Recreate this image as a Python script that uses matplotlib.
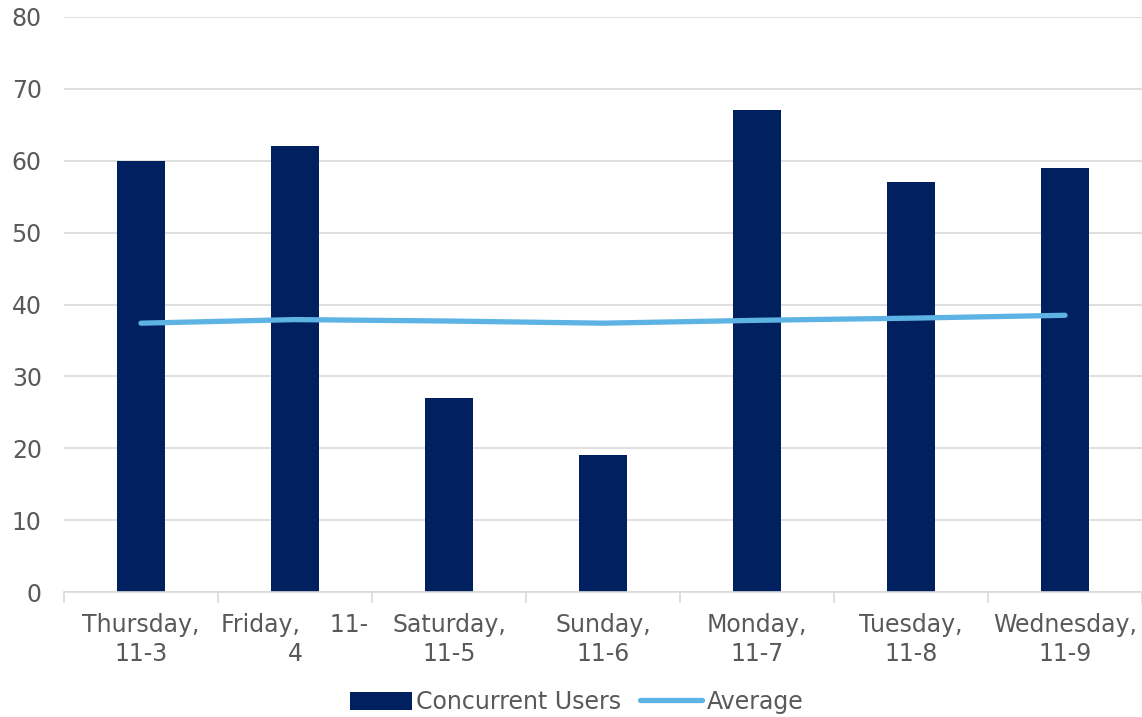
import numpy as np
import matplotlib.pyplot as plt

days = ['Thursday,\n11-3', 'Friday,    11-\n4', 'Saturday,\n11-5', 'Sunday,\n11-6',
        'Monday,\n11-7', 'Tuesday,\n11-8', 'Wednesday,\n11-9']
users = [60, 62, 27, 19, 67, 57, 59]
average = [37.4, 37.9, 37.7, 37.4, 37.8, 38.1, 38.5]

text_col = '#595959'
plt.rcParams['font.family'] = ['DejaVu Sans']

fig = plt.figure(figsize=(11.42, 7.17), dpi=100)
ax = fig.add_axes([64 / 1142, 1 - 592 / 717, (1142 - 64) / 1142, (592 - 17) / 717])

x = np.arange(len(days))
bars = ax.bar(x, users, width=0.31, color='#002060', label='Concurrent Users', zorder=2)
line, = ax.plot(x, average, color='#5DB3E4', linewidth=3.8, solid_capstyle='round',
                label='Average', zorder=3)

ax.set_xlim(-0.5, len(days) - 0.5)
ax.set_ylim(0, 80)
ax.set_yticks(np.arange(0, 81, 10))
ax.yaxis.grid(True, color='#d9d9d9', linewidth=1.2, zorder=0)
ax.set_axisbelow(True)

for s in ['top', 'right', 'left']:
    ax.spines[s].set_visible(False)
ax.spines['bottom'].set_color('#d9d9d9')
ax.spines['bottom'].set_linewidth(1.2)

ax.set_xticks(x)
ax.set_xticklabels(days, fontsize=17, color=text_col, linespacing=1.25)
ax.set_xticks(np.arange(-0.5, len(days), 1), minor=True)
ax.tick_params(axis='x', which='major', length=0, pad=15)
ax.tick_params(axis='x', which='minor', length=8, color='#d9d9d9', width=1.2)
ax.tick_params(axis='y', length=0, labelsize=17, labelcolor=text_col, pad=16)

fig.legend([bars, line], ['Concurrent Users', 'Average'], loc='center',
           bbox_to_anchor=(0.505, 1 - 702 / 717), ncol=2, frameon=False,
           fontsize=17, labelcolor=text_col, handlelength=2.6, handleheight=0.8,
           handletextpad=0.2, columnspacing=0.8)

fig.savefig('out.png', dpi=100)
